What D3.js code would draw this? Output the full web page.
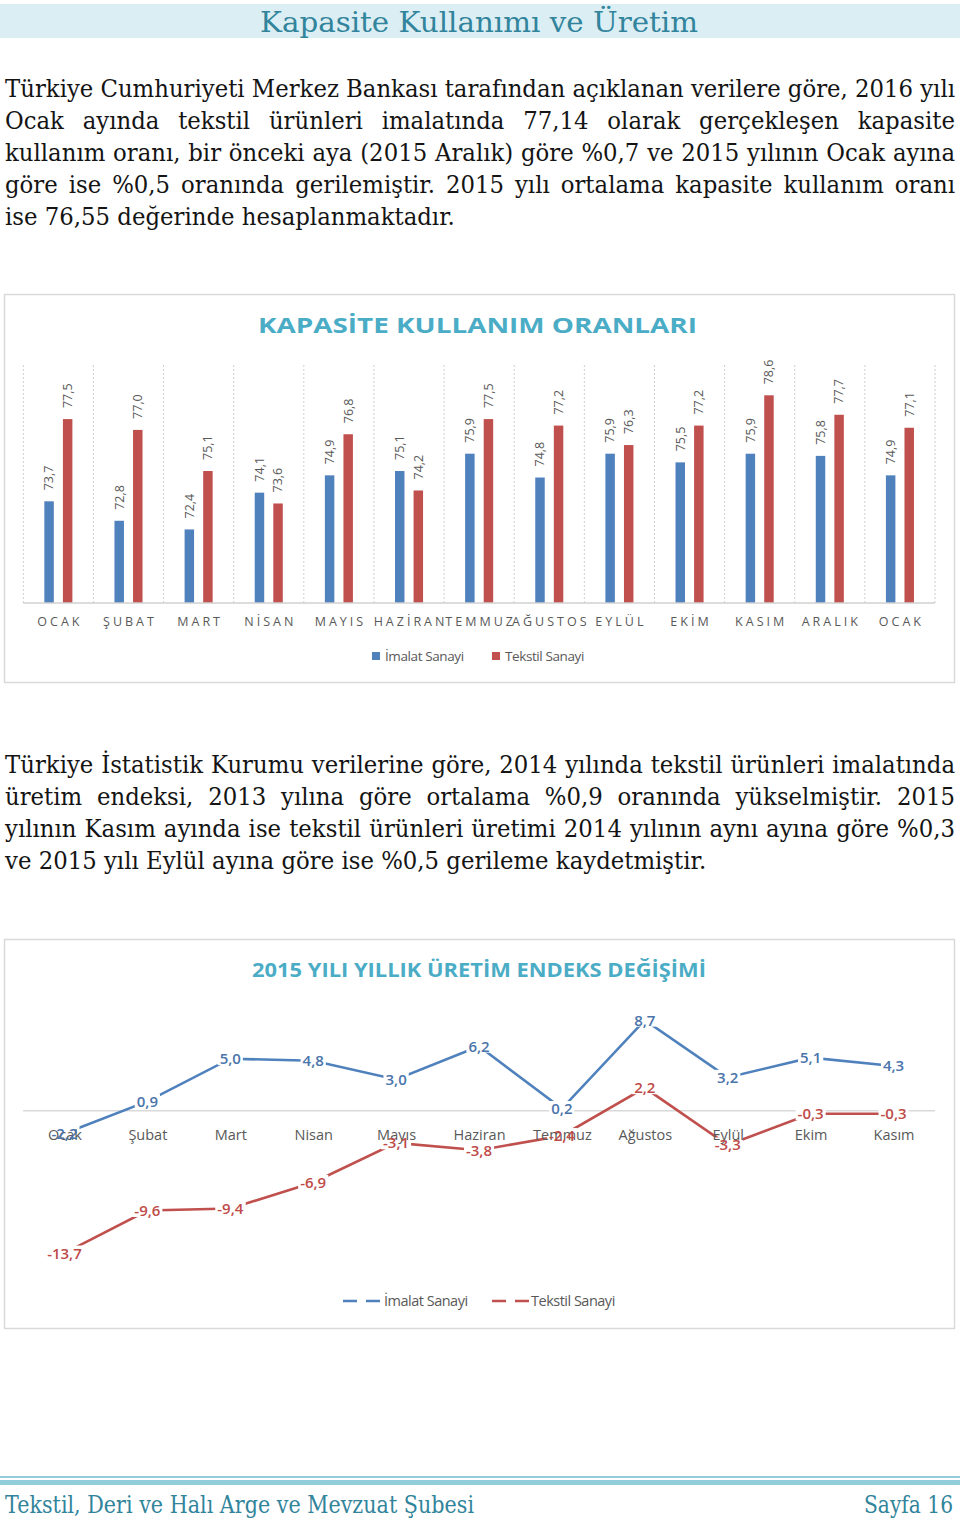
<!DOCTYPE html>
<html lang="tr">
<head>
<meta charset="UTF-8">
<title>Kapasite Kullanımı ve Üretim</title>
<script src="https://cdn.jsdelivr.net/npm/d3@7"></script>
<style>
  body { margin: 0; background: #fff; }
  .para { font-family: "DejaVu Serif", serif; font-size: 25px; fill: #141414; }
  .cf { font-family: "Open Sans", "Liberation Sans", sans-serif; }
</style>
</head>
<body>
<svg id="page" width="960" height="1524"></svg>
<script>
// ---- data ----
var barMonths = ["OCAK", "ŞUBAT", "MART", "NİSAN", "MAYIS", "HAZİRAN", "TEMMUZ", "AĞUSTOS", "EYLÜL", "EKİM", "KASIM", "ARALIK", "OCAK"];
var imalatKap = [73.7, 72.8, 72.4, 74.1, 74.9, 75.1, 75.9, 74.8, 75.9, 75.5, 75.9, 75.8, 74.9];
var tekstilKap = [77.5, 77.0, 75.1, 73.6, 76.8, 74.2, 77.5, 77.2, 76.3, 77.2, 78.6, 77.7, 77.1];

var lineMonths = ["Ocak", "Şubat", "Mart", "Nisan", "Mayıs", "Haziran", "Temmuz", "Ağustos", "Eylül", "Ekim", "Kasım"];
var imalatEndeks = [-2.2, 0.9, 5.0, 4.8, 3.0, 6.2, 0.2, 8.7, 3.2, 5.1, 4.3];
var tekstilEndeks = [-13.7, -9.6, -9.4, -6.9, -3.1, -3.8, -2.4, 2.2, -3.3, -0.3, -0.3];

var seriesNames = ["İmalat Sanayi", "Tekstil Sanayi"];

var para1 = [
  "Türkiye Cumhuriyeti Merkez Bankası tarafından açıklanan verilere göre, 2016 yılı",
  "Ocak ayında tekstil ürünleri imalatında 77,14 olarak gerçekleşen kapasite",
  "kullanım oranı, bir önceki aya (2015 Aralık) göre %0,7 ve 2015 yılının Ocak ayına",
  "göre ise %0,5 oranında gerilemiştir. 2015 yılı ortalama kapasite kullanım oranı",
  "ise 76,55 değerinde hesaplanmaktadır."
];
var para2 = [
  "Türkiye İstatistik Kurumu verilerine göre, 2014 yılında tekstil ürünleri imalatında",
  "üretim endeksi, 2013 yılına göre ortalama %0,9 oranında yükselmiştir. 2015",
  "yılının Kasım ayında ise tekstil ürünleri üretimi 2014 yılının aynı ayına göre %0,3",
  "ve 2015 yılı Eylül ayına göre ise %0,5 gerileme kaydetmiştir."
];

var blue = "#4f81bd", red = "#c0504d", grey = "#595959", teal = "#4bacc6";
var fmt = function(v) { return v.toFixed(1).replace(".", ","); };

var svg = d3.select("#page");

// ---- header ----
svg.append("rect").attr("x", 0).attr("y", 4).attr("width", 960).attr("height", 34).attr("fill", "#dbeef4");
svg.append("text")
  .attr("x", 260).attr("y", 32)
  .attr("textLength", 438).attr("lengthAdjust", "spacingAndGlyphs")
  .style("font-family", "DejaVu Serif, serif").style("font-size", "27px")
  .attr("fill", "#31849b")
  .text("Kapasite Kullanımı ve Üretim");

// ---- paragraphs (justified, word by word) ----
var probe = svg.append("text").attr("class", "para");
probe.text("x x");
var w2 = probe.node().getComputedTextLength();
probe.text("xx");
var spaceW = w2 - probe.node().getComputedTextLength();

function naturalWidth(str) {
  probe.text(str);
  return probe.node().getComputedTextLength();
}
// horizontal squeeze measured from a non-justified line
var sx = 450 / naturalWidth(para1[para1.length - 1]);
probe.remove();

function drawLine(str, x, y, width, justify) {
  var t = svg.append("text").attr("class", "para")
    .attr("transform", "translate(" + x + "," + y + ") scale(" + sx + ",1)");
  var words = str.split(" ");
  var spans = words.map(function(w) { return t.append("tspan").text(w); });
  var widths = spans.map(function(s) { return s.node().getComputedTextLength(); });
  var gap = justify ? (width / sx - d3.sum(widths)) / (words.length - 1) : spaceW;
  var cx = 0;
  spans.forEach(function(s, i) { s.attr("x", cx); cx += widths[i] + gap; });
}

para1.forEach(function(l, i) { drawLine(l, 5, 97 + i * 32, 950, i < para1.length - 1); });
para2.forEach(function(l, i) { drawLine(l, 5, 773 + i * 32, 950, i < para2.length - 1); });

// ---- bar chart ----
var bar = svg.append("g").attr("class", "cf");
bar.append("rect").attr("x", 4.5).attr("y", 294.5).attr("width", 950).attr("height", 388)
  .attr("fill", "none").attr("stroke", "#d9d9d9").attr("stroke-width", 1.5);

bar.append("text")
  .attr("x", 258).attr("y", 333)
  .attr("textLength", 439).attr("lengthAdjust", "spacingAndGlyphs")
  .style("font-size", "21px").style("font-weight", "bold")
  .attr("fill", teal)
  .text("KAPASİTE KULLANIM ORANLARI");

var bTop = 365, bBottom = 603;
var x0 = d3.scaleBand().domain(d3.range(barMonths.length)).range([23.3, 935]);
var x1 = d3.scaleBand().domain([0, 1])
  .range([x0.bandwidth() * 0.3, x0.bandwidth() * 0.7]).paddingInner(0.49);
var yb = d3.scaleLinear().domain([69, 80]).range([bBottom, bTop]);

// dashed category separators
bar.selectAll(".sep").data(d3.range(barMonths.length + 1)).enter().append("line")
  .attr("x1", function(i) { return 23.3 + i * x0.step(); })
  .attr("x2", function(i) { return 23.3 + i * x0.step(); })
  .attr("y1", bTop).attr("y2", bBottom)
  .attr("stroke", "#cfcfcf").attr("stroke-dasharray", "2,2");

var barData = [];
barMonths.forEach(function(m, i) {
  barData.push({ i: i, s: 0, v: imalatKap[i] });
  barData.push({ i: i, s: 1, v: tekstilKap[i] });
});

bar.selectAll(".bar").data(barData).enter().append("rect")
  .attr("x", function(d) { return x0(d.i) + x1(d.s); })
  .attr("width", x1.bandwidth())
  .attr("y", function(d) { return yb(d.v); })
  .attr("height", function(d) { return bBottom - yb(d.v); })
  .attr("fill", function(d) { return d.s === 0 ? blue : red; });

bar.selectAll(".vlab").data(barData).enter().append("text")
  .attr("transform", function(d) {
    return "translate(" + (x0(d.i) + x1(d.s) + x1.bandwidth() / 2) + "," + (yb(d.v) - 11) + ") rotate(-90)";
  })
  .attr("dy", "0.35em")
  .style("font-size", "12.5px").attr("fill", grey)
  .text(function(d) { return fmt(d.v); });

bar.append("line").attr("x1", 23.3).attr("x2", 935).attr("y1", bBottom).attr("y2", bBottom)
  .attr("stroke", "#d0d0d0").attr("stroke-width", 1.5);

var xAxisB = bar.append("g").attr("transform", "translate(0," + bBottom + ")")
  .call(d3.axisBottom(x0).tickSize(0).tickPadding(14).tickFormat(function(i) { return barMonths[i]; }));
xAxisB.select(".domain").remove();
xAxisB.selectAll("text")
  .attr("fill", grey).attr("dx", "1.5px")
  .style("font-family", "Open Sans, sans-serif").style("font-size", "12.5px").style("letter-spacing", "3px");

var legB = bar.append("g");
[[372, 385, blue], [492, 505, red]].forEach(function(p, k) {
  legB.append("rect").attr("x", p[0]).attr("y", 652).attr("width", 8).attr("height", 8).attr("fill", p[2]);
  legB.append("text").attr("x", p[1]).attr("y", 661)
    .style("font-size", "13.5px").attr("fill", grey).style("letter-spacing", "-0.4px").text(seriesNames[k]);
});

// ---- line chart ----
var lc = svg.append("g").attr("class", "cf");
lc.append("rect").attr("x", 4.5).attr("y", 939.5).attr("width", 950).attr("height", 389)
  .attr("fill", "none").attr("stroke", "#d9d9d9").attr("stroke-width", 1.5);

lc.append("text")
  .attr("x", 252).attr("y", 977)
  .attr("textLength", 454).attr("lengthAdjust", "spacingAndGlyphs")
  .style("font-size", "20px").style("font-weight", "bold")
  .attr("fill", teal)
  .text("2015 YILI YILLIK ÜRETİM ENDEKS DEĞİŞİMİ");

var xl = d3.scalePoint().domain(lineMonths).range([23, 935]).padding(0.5);
var yl = d3.scaleLinear().domain([-14, 9]).range([1256.3, 1017.1]);

lc.append("line").attr("x1", 23).attr("x2", 935).attr("y1", yl(0)).attr("y2", yl(0))
  .attr("stroke", "#d9d9d9").attr("stroke-width", 1.5);

var lineSeries = [
  { vals: imalatEndeks, color: blue, lab: "#4a74ab" },
  { vals: tekstilEndeks, color: red, lab: "#be4b48" }
];
var lineGen = d3.line()
  .x(function(d, i) { return xl(lineMonths[i]); })
  .y(function(d) { return yl(d); });

lineSeries.forEach(function(s) {
  lc.append("path").attr("d", lineGen(s.vals))
    .attr("fill", "none").attr("stroke", s.color).attr("stroke-width", 2.6);
});

// data labels: white boxes interrupt the lines
var labG = lc.append("g");
var labels = [];
lineSeries.forEach(function(s) {
  s.vals.forEach(function(v, i) {
    var t = labG.append("text")
      .attr("x", xl(lineMonths[i])).attr("y", yl(v)).attr("dy", "0.36em")
      .attr("text-anchor", "middle")
      .style("font-size", "15px").style("font-weight", "600")
      .attr("fill", s.lab).text(fmt(v));
    labels.push(t);
  });
});
labels.forEach(function(t) {
  var b = t.node().getBBox();
  labG.insert("rect", "text")
    .attr("x", b.x - 2).attr("y", b.y + 3).attr("width", b.width + 4).attr("height", b.height - 6)
    .attr("fill", "#fff");
});

var xAxisL = lc.insert("g", "g").attr("transform", "translate(0," + yl(0) + ")");
xAxisL.call(d3.axisBottom(xl).tickSize(0).tickPadding(19));
xAxisL.select(".domain").remove();
xAxisL.selectAll("text").attr("fill", grey)
  .style("font-family", "Open Sans, sans-serif").style("font-size", "14.5px");
// axis labels sit above the label boxes but under the label text
labG.selectAll("rect").lower();
xAxisL.raise();
labG.selectAll("text").each(function() { lc.node().appendChild(this); });

var legL = lc.append("g");
[[343, 384, blue], [492, 531, red]].forEach(function(p, k) {
  legL.append("line").attr("x1", p[0]).attr("x2", p[0] + 37).attr("y1", 1301).attr("y2", 1301)
    .attr("stroke", p[2]).attr("stroke-width", 2.6).attr("stroke-dasharray", "14,9");
  legL.append("text").attr("x", p[1]).attr("y", 1306)
    .style("font-size", "14.5px").attr("fill", grey).style("letter-spacing", "-0.5px").text(seriesNames[k]);
});

// ---- footer ----
svg.append("rect").attr("x", 0).attr("y", 1476).attr("width", 960).attr("height", 2).attr("fill", "#92cddc");
svg.append("rect").attr("x", 0).attr("y", 1480).attr("width", 960).attr("height", 5).attr("fill", "#92cddc");
svg.append("text").attr("x", 5).attr("y", 1513)
  .attr("textLength", 469).attr("lengthAdjust", "spacingAndGlyphs")
  .style("font-family", "DejaVu Serif, serif").style("font-size", "25px").attr("fill", "#31849b")
  .text("Tekstil, Deri ve Halı Arge ve Mevzuat Şubesi");
svg.append("text").attr("x", 864).attr("y", 1513)
  .attr("textLength", 89).attr("lengthAdjust", "spacingAndGlyphs")
  .style("font-family", "DejaVu Serif, serif").style("font-size", "25px").attr("fill", "#31849b")
  .text("Sayfa 16");
</script>
</body>
</html>
